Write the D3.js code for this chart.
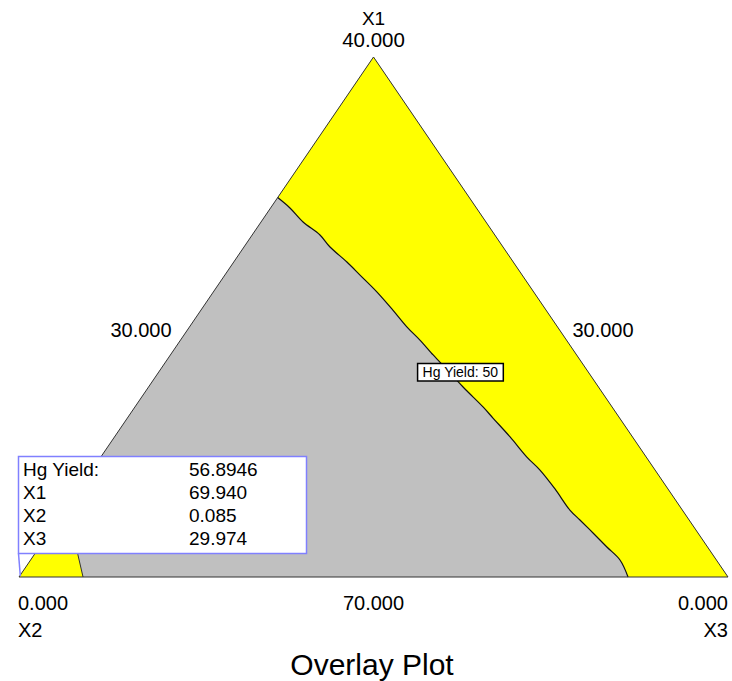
<!DOCTYPE html>
<html>
<head>
<meta charset="utf-8">
<script src="https://cdn.jsdelivr.net/npm/d3@7"></script>
<style>
  html, body { margin: 0; padding: 0; background: #ffffff; }
  svg { display: block; }
  text { font-family: "Liberation Sans", Arial, sans-serif; fill: #000; }
</style>
</head>
<body>
<svg id="chart" width="732" height="681"></svg>
<script>
// Mixture components (inverted simplex: X1 + X2 + X3 = 100)
const components = ["X1", "X2", "X3"];
const upperBounds = [70, 30, 30];
const mixtureTotal = 100;

// Hg Yield = 50 contour, running from the X1-X2 edge down to the X2-X3 edge
const contourX1 = [48.11, 48.71, 49.52, 50.27, 50.96, 51.83, 52.58, 53.56, 54.60, 55.58,
                   56.33, 57.19, 57.60, 59.04, 60.19, 60.83, 61.92, 63.08, 63.83, 64.92,
                   66.14, 66.71, 67.46, 68.27, 69.02, 70.00];
const contourX3 = [30.00, 29.18, 28.22, 27.13, 26.36, 25.21, 24.28, 23.07, 21.88, 20.79,
                   19.87, 18.88, 18.39, 16.69, 15.27, 14.53, 13.26, 11.97, 11.04, 9.86,
                   8.62, 7.91, 6.98, 5.99, 5.06, 4.23];

// Second Hg Yield = 50 boundary near the X2 vertex
const cornerX1 = [70.00, 68.73, 67.30, 66.00];
const cornerX3 = [27.29, 28.14, 29.00, 30.00];

const contourLevel = 50;

// Edge / vertex labels
const vertexTopLabel = ["X1", "40.000"];
const vertexLeftLabel = ["0.000", "X2"];
const vertexRightLabel = ["0.000", "X3"];
const leftEdgeLabel = "30.000";
const rightEdgeLabel = "30.000";
const bottomEdgeLabel = "70.000";
const chartTitle = "Overlay Plot";

// Flagged design point
const flagNames = ["Hg Yield:", "X1", "X2", "X3"];
const flagValues = ["56.8946", "69.940", "0.085", "29.974"];
const flagPoint = [69.940, 0.085, 29.974];

// ---------------------------------------------------------------
const svg = d3.select("#chart");
const span = upperBounds.reduce((s, v) => s + v, 0) - mixtureTotal;

// real component values -> pseudo fractions (a: top, c: bottom-right)
function pseudo(x1, x3) {
  const x2 = mixtureTotal - x1 - x3;
  return {
    a: (upperBounds[0] - x1) / span,
    b: (upperBounds[1] - x2) / span,
    c: (upperBounds[2] - x3) / span
  };
}

const xScale = d3.scaleLinear().domain([0, 1]).range([19, 728]);
const yScale = d3.scaleLinear().domain([0, 1]).range([577, 57]);
const px = p => [xScale(p.c + p.a / 2), yScale(p.a)];

const topV = px({a: 1, b: 0, c: 0});
const leftV = px({a: 0, b: 1, c: 0});
const rightV = px({a: 0, b: 0, c: 1});

const contourPts = contourX1.map((v, i) => px(pseudo(v, contourX3[i])));
const cornerPts = cornerX1.map((v, i) => px(pseudo(v, cornerX3[i])));

const line = d3.line();
const smooth = d3.line().curve(d3.curveCatmullRom.alpha(0.5));
const poly = pts => line(pts) + "Z";

// base (gray) region
svg.append("path")
  .attr("d", poly([topV, leftV, rightV]))
  .attr("fill", "#c0c0c0");

// yellow region along the X1-X3 side
svg.append("path")
  .attr("d", smooth(contourPts) + line([rightV, topV]).replace("M", "L") + "Z")
  .attr("fill", "#ffff00");

// yellow region at the X2 vertex
svg.append("path")
  .attr("d", poly([leftV].concat(cornerPts)))
  .attr("fill", "#ffff00");

// contour lines
svg.append("path")
  .attr("d", smooth(contourPts))
  .attr("fill", "none")
  .attr("stroke", "#111")
  .attr("stroke-width", 1.2);
svg.append("path")
  .attr("d", line(cornerPts))
  .attr("fill", "none")
  .attr("stroke", "#333")
  .attr("stroke-width", 1);

// triangle outline
svg.append("path")
  .attr("d", poly([topV, leftV, rightV]))
  .attr("fill", "none")
  .attr("stroke", "#333")
  .attr("stroke-width", 1);

// contour label
(function () {
  const target = 58.0;
  let i = d3.bisectLeft(contourX1, target);
  const t = (target - contourX1[i - 1]) / (contourX1[i] - contourX1[i - 1]);
  const x3 = contourX3[i - 1] + t * (contourX3[i] - contourX3[i - 1]);
  const [cx, cy] = px(pseudo(target, x3));
  const g = svg.append("g").attr("transform", `translate(${cx + 14},${cy + 3})`);
  const txt = g.append("text")
    .attr("text-anchor", "middle")
    .attr("dy", "0.36em")
    .attr("font-size", 14)
    .text(`Hg Yield: ${contourLevel}`);
  const bb = txt.node().getBBox();
  g.insert("rect", "text")
    .attr("x", bb.x - 5).attr("y", -8.5)
    .attr("width", bb.width + 10).attr("height", 17.5)
    .attr("fill", "#fff")
    .attr("stroke", "#000")
    .attr("stroke-width", 1.5);
})();

// vertex & edge labels
const big = 20;
svg.append("text").attr("x", topV[0]).attr("y", 25).attr("text-anchor", "middle")
  .attr("font-size", 19).text(vertexTopLabel[0]);
svg.append("text").attr("x", topV[0]).attr("y", 47).attr("text-anchor", "middle")
  .attr("font-size", 20.5).text(vertexTopLabel[1]);

svg.append("text").attr("x", leftV[0] - 1).attr("y", 610).attr("font-size", big).text(vertexLeftLabel[0]);
svg.append("text").attr("x", leftV[0] - 1).attr("y", 637).attr("font-size", big).text(vertexLeftLabel[1]);
svg.append("text").attr("x", rightV[0]).attr("y", 610).attr("text-anchor", "end")
  .attr("font-size", big).text(vertexRightLabel[0]);
svg.append("text").attr("x", rightV[0]).attr("y", 637).attr("text-anchor", "end")
  .attr("font-size", big).text(vertexRightLabel[1]);

svg.append("text").attr("x", (leftV[0] + rightV[0]) / 2).attr("y", 610).attr("text-anchor", "middle")
  .attr("font-size", big).text(bottomEdgeLabel);
svg.append("text").attr("x", 141).attr("y", 337).attr("text-anchor", "middle")
  .attr("font-size", big).text(leftEdgeLabel);
svg.append("text").attr("x", 603).attr("y", 337).attr("text-anchor", "middle")
  .attr("font-size", big).text(rightEdgeLabel);

svg.append("text").attr("x", 372).attr("y", 675).attr("text-anchor", "middle")
  .attr("font-size", 30).text(chartTitle);

// flag box for the selected point
const fp = px(pseudo(flagPoint[0], flagPoint[2]));
const flag = {x: 18.5, y: 456.5, w: 288, h: 97};
svg.append("line")
  .attr("x1", flag.x).attr("y1", flag.y + flag.h)
  .attr("x2", fp[0]).attr("y2", fp[1])
  .attr("stroke", "#8080ff").attr("stroke-width", 1.5);
svg.append("rect")
  .attr("x", flag.x).attr("y", flag.y).attr("width", flag.w).attr("height", flag.h)
  .attr("fill", "#fff").attr("stroke", "#8080ff").attr("stroke-width", 1.5);
const rowY = d3.scaleLinear().domain([0, 1]).range([476, 499]);
flagNames.forEach((n, i) => {
  svg.append("text").attr("x", 23).attr("y", rowY(i)).attr("font-size", 19).text(n);
  svg.append("text").attr("x", 189).attr("y", rowY(i)).attr("font-size", 19).text(flagValues[i]);
});
</script>
</body>
</html>
